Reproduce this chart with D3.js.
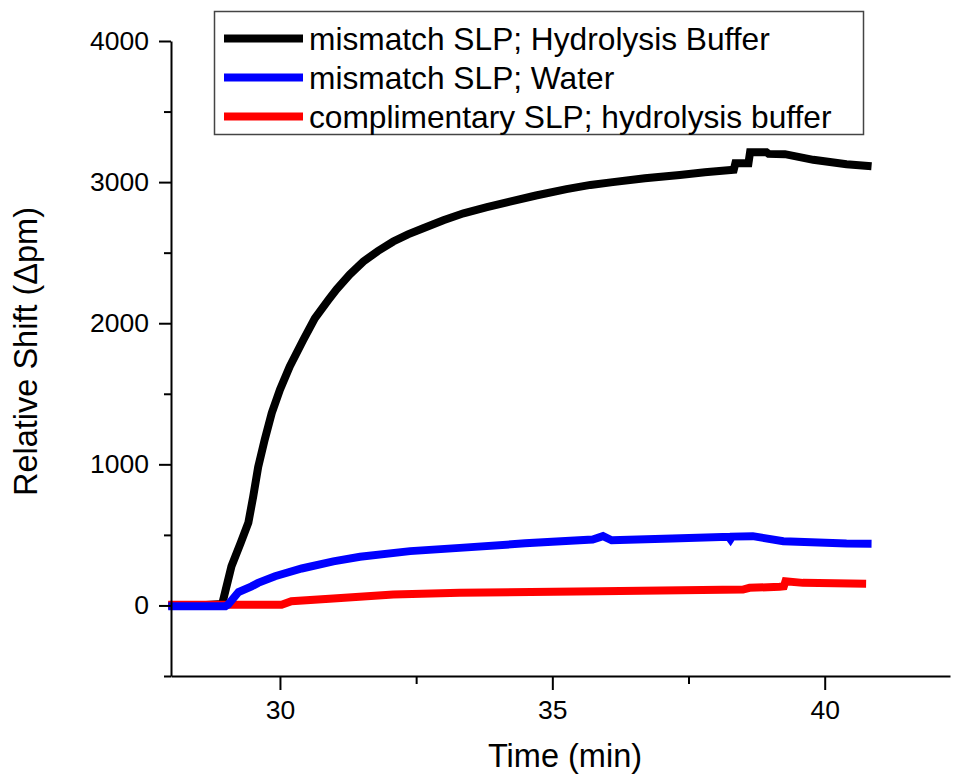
<!DOCTYPE html>
<html>
<head>
<meta charset="utf-8">
<script src="https://cdn.jsdelivr.net/npm/d3@7"></script>
<style>
  body { margin: 0; background: #fff; }
  text { font-family: Arial, "Liberation Sans", sans-serif; fill: #000; }
</style>
</head>
<body>
<svg id="chart" width="955" height="775"></svg>
<script>
// values (time in min, shift in pm)
const blackTime = [27.95, 28.5, 28.94, 29.11, 29.28, 29.42, 29.51, 29.6, 29.72, 29.85, 30.0, 30.18, 30.43, 30.64, 30.89, 31.04, 31.28, 31.53, 31.8, 32.08, 32.35, 32.63, 33.0, 33.37, 33.8, 34.22, 34.7, 35.26, 35.7, 36.11, 36.7, 37.34, 37.8, 38.33, 38.36, 38.6, 38.63, 38.93, 38.97, 39.27, 39.79, 40.4, 40.86];
const blackShift = [0, 0, 10, 278, 444, 586, 774, 981, 1175, 1364, 1529, 1694, 1883, 2035, 2165, 2240, 2345, 2437, 2512, 2579, 2630, 2673, 2730, 2779, 2822, 2862, 2905, 2950, 2980, 3000, 3027, 3051, 3070, 3087, 3134, 3134, 3212, 3212, 3200, 3198, 3158, 3127, 3112];

const blueTime = [27.95, 28.5, 29.0, 29.05, 29.24, 29.48, 29.6, 29.91, 30.4, 30.98, 31.47, 32.39, 33.3, 34.5, 35.74, 35.93, 36.09, 37.2, 38.24, 38.27, 38.3, 38.68, 39.24, 40.4, 40.86];
const blueShift = [-5, -5, -5, 7, 95, 135, 160, 207, 262, 312, 345, 385, 408, 440, 467, 491, 462, 475, 486, 470, 488, 491, 455, 439, 437];

const redTime = [27.95, 28.5, 29.5, 30.03, 30.21, 30.98, 32.08, 33.3, 35.87, 38.5, 38.62, 39.17, 39.25, 39.28, 39.6, 40.76];
const redShift = [5, 5, 5, 5, 30, 50, 78, 90, 101, 113, 125, 132, 135, 172, 160, 154];

const seriesNames = ["mismatch SLP; Hydrolysis Buffer", "mismatch SLP; Water", "complimentary SLP; hydrolysis buffer"];
const seriesColors = ["#000000", "#0000ff", "#ff0000"];

const xTicks = [30, 35, 40];
const xMinorTicks = [32.5, 37.5];
const yTicks = [0, 1000, 2000, 3000, 4000];
const yMinorTicks = [-500, 500, 1500, 2500, 3500];

const svg = d3.select('#chart');

// plot area
const plotLeft = 171, plotRight = 950, plotTop = 41, plotBottom = 676;

let x = d3.scaleLinear().domain([28, 42.3]).range([plotLeft, plotRight]);
let y = d3.scaleLinear().domain([-500, 4000]).range([plotBottom, plotTop]);

// build series from the arrays
const series = [
    { name: seriesNames[0], color: seriesColors[0], pts: blackTime.map((t, i) => [t, blackShift[i]]) },
    { name: seriesNames[1], color: seriesColors[1], pts: blueTime.map((t, i) => [t, blueShift[i]]) },
    { name: seriesNames[2], color: seriesColors[2], pts: redTime.map((t, i) => [t, redShift[i]]) }
];

let line = d3.line()
    .x(d => x(d[0]))
    .y(d => y(d[1]));

// draw black first, then red, blue on top
[0, 2, 1].forEach(i => {
    svg.append('path')
        .datum(series[i].pts)
        .attr('fill', 'none')
        .attr('stroke', series[i].color)
        .attr('stroke-width', 8)
        .attr('stroke-linejoin', 'miter')
        .attr('d', line);
});

// x axis, major and minor ticks
svg.append('g')
    .attr('transform', `translate(0,${plotBottom})`)
    .call(d3.axisBottom(x).tickValues(xTicks).tickSize(14).tickPadding(10).tickSizeOuter(0).tickFormat(d3.format('d')));
svg.append('g')
    .attr('transform', `translate(0,${plotBottom})`)
    .call(d3.axisBottom(x).tickValues(xMinorTicks).tickSize(8).tickFormat('').tickSizeOuter(0))
    .select('.domain').remove();

// y axis, major and minor ticks
svg.append('g')
    .attr('transform', `translate(${plotLeft},0)`)
    .call(d3.axisLeft(y).tickValues(yTicks).tickSize(12).tickPadding(10).tickSizeOuter(0).tickFormat(d3.format('d')));
svg.append('g')
    .attr('transform', `translate(${plotLeft},0)`)
    .call(d3.axisLeft(y).tickValues(yMinorTicks).tickSize(7).tickFormat('').tickSizeOuter(0))
    .select('.domain').remove();

svg.selectAll('.domain, .tick line')
    .attr('stroke', '#000')
    .attr('stroke-width', 2);
svg.selectAll('.tick text')
    .attr('font-size', 26.5)
    .attr('font-family', 'Arial, "Liberation Sans", sans-serif')
    .attr('fill', '#000');

// axis titles
svg.append('text')
    .attr('x', 565)
    .attr('y', 767)
    .attr('text-anchor', 'middle')
    .attr('font-size', 32.5)
    .text('Time (min)');

svg.append('text')
    .attr('transform', 'translate(37,351.5) rotate(-90)')
    .attr('text-anchor', 'middle')
    .attr('font-size', 32.5)
    .text('Relative Shift (\u0394pm)');

// legend
let legend = svg.append('g');
legend.append('rect')
    .attr('x', 214.5)
    .attr('y', 11.5)
    .attr('width', 649)
    .attr('height', 123)
    .attr('fill', '#fff')
    .attr('stroke', '#444')
    .attr('stroke-width', 1.5);

series.forEach((s, i) => {
    let ly = 38.5 + i * 39;
    legend.append('line')
        .attr('x1', 224).attr('x2', 303)
        .attr('y1', ly).attr('y2', ly)
        .attr('stroke', s.color)
        .attr('stroke-width', 8);
    legend.append('text')
        .attr('x', 309)
        .attr('y', ly + 11)
        .attr('font-size', 31.7)
        .text(s.name);
});
</script>
</body>
</html>
